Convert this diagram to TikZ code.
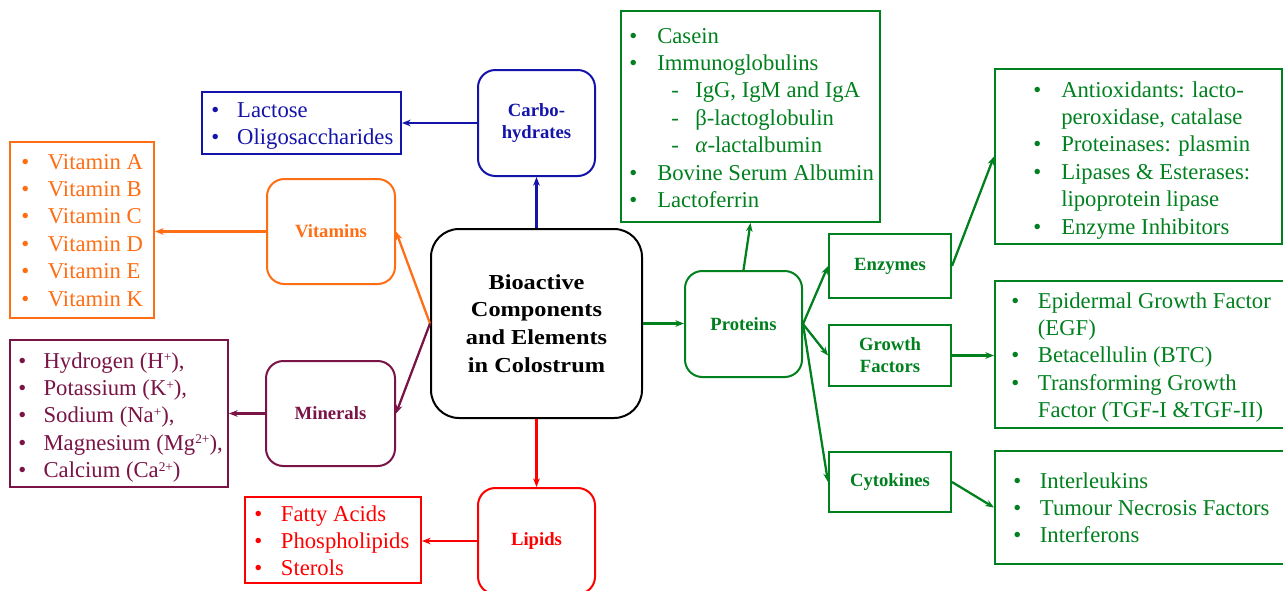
\documentclass[tikz,border=0pt]{standalone}
\usepackage{fontspec}
\setmainfont{Liberation Serif}
\newfontfamily\cenfont{Liberation Serif}[FakeStretch=1.14]
\usetikzlibrary{arrows.meta}
\definecolor{cor}{RGB}{255,110,20}
\definecolor{cbl}{RGB}{20,20,170}
\definecolor{cmr}{RGB}{122,20,70}
\definecolor{crd}{RGB}{255,0,0}
\definecolor{cgr}{RGB}{0,128,30}
\newcommand\bu{\textbullet}
\newcommand\dsh[1]{\hspace{10.5pt}\makebox[18pt][l]{-}#1}
\newcommand\spr[1]{\raisebox{0.62ex}{\fontsize{10}{10}\selectfont #1}}
\begin{document}
\begin{tikzpicture}[x=0.75pt,y=-0.75pt,
  sz/.style 2 args={minimum width=#1*0.75pt, minimum height=#2*0.75pt},
  rbox/.style={draw, rounded corners=13pt, line width=1.5pt, inner sep=0pt,
    font=\fontsize{14}{16.5}\selectfont\bfseries, align=center},
  cbox/.style={draw, rounded corners=21pt, line width=1.5pt, inner sep=0pt,
    font=\cenfont\fontsize{16}{20.8}\selectfont\bfseries, align=center},
  lbox/.style={draw, line width=1.5pt, inner sep=0pt},
  sbox/.style={lbox, font=\fontsize{14}{16.5}\selectfont\bfseries, align=center},
  lst/.style={anchor=base west, inner sep=0pt, font=\fontsize{17}{20.6}\selectfont},
  arr/.style={-{Stealth[length=6.5pt,width=5pt]}, line width=1.7pt},
  kor/.style={draw=cor, text=cor},
  kbl/.style={draw=cbl, text=cbl},
  kmr/.style={draw=cmr, text=cmr},
  krd/.style={draw=crd, text=crd},
  kgr/.style={draw=cgr, text=cgr}]
\useasboundingbox (0,0) rectangle (1283,590);
\fill[white] (0,0) rectangle (1283,590);

% central
\node[cbox, sz={211}{189}] (cen) at (536.5,323.5) {Bioactive\\Components\\and Elements\\in Colostrum};

% carbohydrates
\node[rbox, kbl, sz={117}{106}] (carb) at (536.5,123) {Carbo-\\hydrates};
\node[lbox, kbl, sz={199}{62}] (lact) at (301.5,123) {};
\node[lst, text=cbl] (lactt) at (211,117) {\begin{tabular}[t]{@{}p{19.5pt}@{}l@{}}\bu & Lactose\\ \bu & Oligosaccharides\end{tabular}};

% vitamins
\node[rbox, kor, sz={128}{105}] (vit) at (331,231.5) {Vitamins};
\node[lbox, kor, sz={144}{176}] (vitl) at (82,230) {};
\node[lst, text=cor] (vitt) at (21,169) {\begin{tabular}[t]{@{}p{20pt}@{}l@{}}\bu & Vitamin A\\ \bu & Vitamin B\\ \bu & Vitamin C\\ \bu & Vitamin D\\ \bu & Vitamin E\\ \bu & Vitamin K\end{tabular}};

% minerals
\node[rbox, kmr, sz={129}{105}] (min) at (330.5,413.5) {Minerals};
\node[lbox, kmr, sz={218}{147}] (minl) at (119,413.5) {};
\node[lst, text=cmr] (mint) at (18,368) {\begin{tabular}[t]{@{}p{19pt}@{}l@{}}\bu & Hydrogen (H\spr{+}),\\ \bu & Potassium (K\spr{+}),\\ \bu & Sodium (Na\spr{+}),\\ \bu & Magnesium (Mg\spr{2+}),\\ \bu & Calcium (Ca\spr{2+})\end{tabular}};

% lipids
\node[rbox, krd, sz={117}{106}] (lip) at (536.5,541) {Lipids};
\node[lbox, krd, sz={176}{86}] (lipl) at (333,540) {};
\node[lst, text=crd] (lipt) at (254,521) {\begin{tabular}[t]{@{}p{20pt}@{}l@{}}\bu & Fatty Acids\\ \bu & Phospholipids\\ \bu & Sterols\end{tabular}};

% proteins
\node[rbox, kgr, sz={117}{106}] (prot) at (743.5,324) {Proteins};
\node[lbox, kgr, sz={259}{211}] (protl) at (750.5,116.5) {};
\node[lst, text=cgr] (prott) at (629,43) {\begin{tabular}[t]{@{}p{21pt}@{}l@{}}\bu & Casein\\ \bu & Immunoglobulins\\ & \dsh{IgG, IgM and IgA}\\ & \dsh{β-lactoglobulin}\\ & \dsh{\textit{α}-lactalbumin}\\ \bu & Bovine Serum Albumin\\ \bu & Lactoferrin\end{tabular}};

% protein sub-boxes
\node[sbox, kgr, sz={122}{64}] (enz) at (890,266) {Enzymes};
\node[sbox, kgr, sz={122}{61}] (gf) at (890,355.5) {Growth\\Factors};
\node[sbox, kgr, sz={122}{60}] (cyt) at (890,482) {Cytokines};

\node[lbox, kgr, sz={287}{175}] (enzl) at (1138.5,156.5) {};
\node[lst, text=cgr] (enzt) at (1033,97) {\begin{tabular}[t]{@{}p{21pt}@{}l@{}}\bu & Antioxidants: lacto-\\ & peroxidase, catalase\\ \bu & Proteinases: plasmin\\ \bu & Lipases \& Esterases:\\ & lipoprotein lipase\\ \bu & Enzyme Inhibitors\end{tabular}};

\node[lbox, kgr, sz={305}{147}] (gfl) at (1147.5,354.5) {};
\node[lst, text=cgr] (gft) at (1011,308) {\begin{tabular}[t]{@{}p{20pt}@{}l@{}}\bu & Epidermal Growth Factor\\ & (EGF)\\ \bu & Betacellulin (BTC)\\ \bu & Transforming Growth\\ & Factor (TGF-I \&TGF-II)\end{tabular}};

\node[lbox, kgr, sz={305}{113}] (cytl) at (1147.5,507.5) {};
\node[lst, text=cgr] (cytt) at (1013,488) {\begin{tabular}[t]{@{}p{20pt}@{}l@{}}\bu & Interleukins\\ \bu & Tumour Necrosis Factors\\ \bu & Interferons\end{tabular}};

% connectors
\draw[arr, cbl] (cen.north) -- (carb.south);
\draw[arr, cbl] (carb.west) -- (carb.west -| lact.east);
\draw[arr, cor] (cen.west) -- (vit.east);
\draw[arr, cor] (vit.west) -- (vit.west -| vitl.east);
\draw[arr, cmr] (cen.west) -- (min.east);
\draw[arr, cmr] (min.west) -- (min.west -| minl.east);
\draw[arr, crd] (cen.south) -- (lip.north);
\draw[arr, crd] (lip.west) -- (lip.west -| lipl.east);
\draw[arr, cgr] (cen.east) -- (cen.east -| prot.west);
\draw[arr, cgr] (prot.north) -- (protl.south);
\draw[arr, cgr] (prot.east) -- (enz.west);
\draw[arr, cgr] (prot.east) -- (gf.west);
\draw[arr, cgr] (prot.east) -- (cyt.west);
\draw[arr, cgr] (enz.east) -- (enzl.west);
\draw[arr, cgr] (gf.east) -- (gf.east -| gfl.west);
\draw[arr, cgr] (cyt.east) -- (cytl.west);
\end{tikzpicture}
\end{document}
